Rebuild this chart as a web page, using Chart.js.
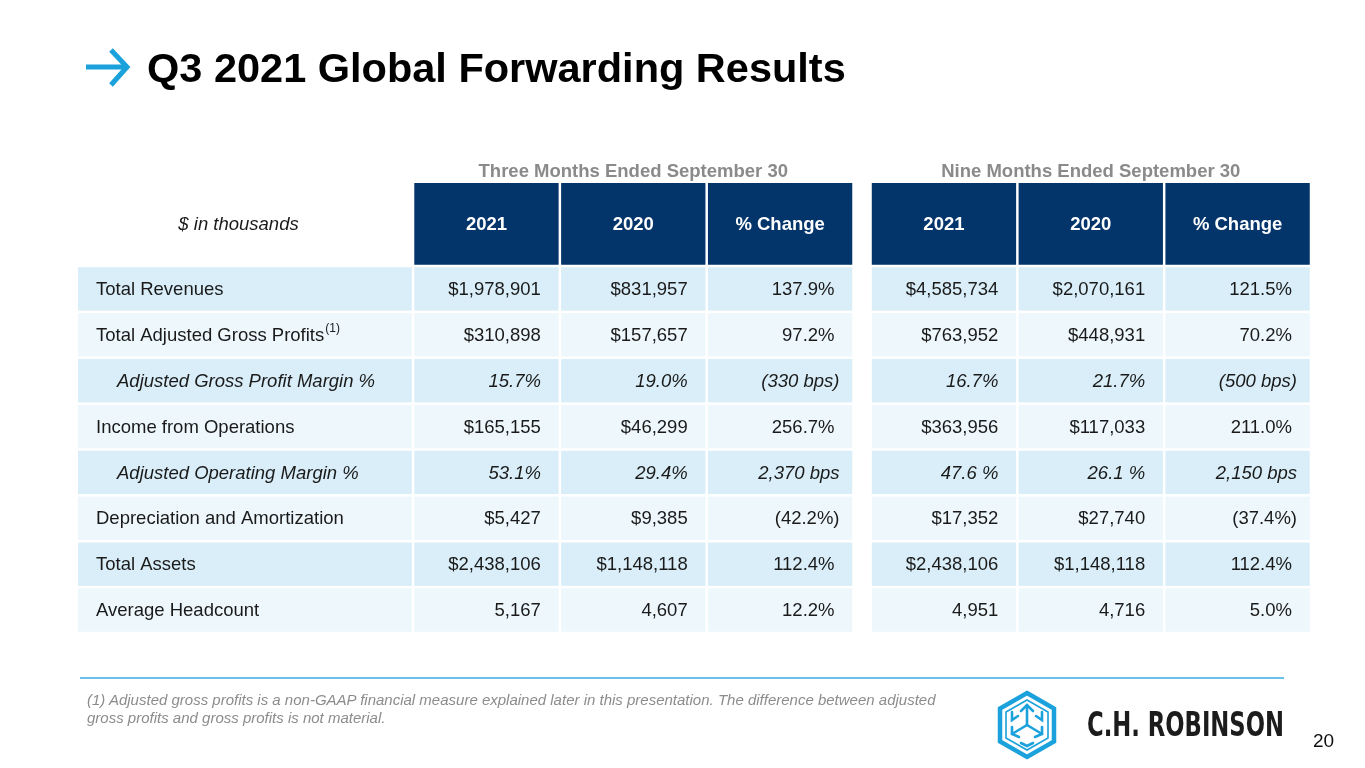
<!DOCTYPE html>
<html><head><meta charset="utf-8">
<script src="https://cdn.jsdelivr.net/npm/chart.js@4.4.1/dist/chart.umd.min.js"></script>
<style>
html,body{margin:0;padding:0;background:#fff;}
body{width:1365px;height:768px;position:relative;overflow:hidden;font-family:'Liberation Sans',Arial,sans-serif;}
#c{position:absolute;left:0;top:0;}
.title{position:absolute;left:147px;top:47px;font-size:41.5px;font-weight:bold;line-height:42px;color:#000;white-space:nowrap;}
.arrow{position:absolute;left:80px;top:44px;}
.rule{position:absolute;left:80px;top:677px;width:1204px;height:2px;background:#6cc1ea;}
.note{position:absolute;left:87px;top:691px;font-size:15px;line-height:18px;font-style:italic;color:#8c8c8c;white-space:nowrap;}
.page{position:absolute;left:1313px;top:731px;font-size:19px;line-height:19px;color:#111;}
.logo{position:absolute;left:996px;top:690px;}
.brand{position:absolute;left:1086px;top:700px;}
</style>
</head>
<body>
<canvas id="c" width="1365" height="768" style="width:1365px;height:768px"></canvas>
<svg class="arrow" width="52" height="48" viewBox="0 0 52 48">
  <line x1="6" y1="23" x2="45" y2="23" stroke="#1ba1db" stroke-width="5"/>
  <polyline points="31,6 47,23 31,41" fill="none" stroke="#1ba1db" stroke-width="5"/>
</svg>
<div class="title">Q3 2021 Global Forwarding Results</div>
<div class="rule"></div>
<div class="note">(1) Adjusted gross profits is a non-GAAP financial measure explained later in this presentation. The difference between adjusted<br>gross profits and gross profits is not material.</div>
<svg class="logo" width="62" height="70" viewBox="0 0 62 70">
  <polygon points="31,3 58,18.5 58,51.5 31,67 4,51.5 4,18.5" fill="none" stroke="#1ba1db" stroke-width="4.5"/>
  <polygon points="31,10 52,22 52,48 31,60 10,48 10,22" fill="none" stroke="#1ba1db" stroke-width="1.6"/>
  <g stroke="#1ba1db" stroke-width="2.6" fill="none" stroke-linecap="round">
    <line x1="31" y1="35" x2="31" y2="15"/>
    <polyline points="25,21 31,15 37,21"/>
    <line x1="31" y1="35" x2="16" y2="44"/>
    <polyline points="16,37 16,44 23,47"/>
    <line x1="31" y1="35" x2="46" y2="44"/>
    <polyline points="46,37 46,44 39,47"/>
    <polyline points="16,22 16,30 22,26"/>
    <polyline points="46,22 46,30 40,26"/>
    <polyline points="25,53 31,56 37,53"/>
  </g>
</svg>
<svg class="brand" width="205" height="45" viewBox="0 0 205 45">
  <text x="1" y="36" font-family="'DejaVu Sans Condensed','DejaVu Sans',sans-serif" font-weight="bold" font-size="33" fill="#1c1c1c" textLength="197" lengthAdjust="spacingAndGlyphs">C.H. ROBINSON</text>
</svg>
<div class="page">20</div>
<script>
const rowLabels = ['Total Revenues', 'Total Adjusted Gross Profits', 'Adjusted Gross Profit Margin %', 'Income from Operations', 'Adjusted Operating Margin %', 'Depreciation and Amortization', 'Total Assets', 'Average Headcount'];
const rowNotes = ['', '(1)', '', '', '', '', '', ''];
const columnLabels = ['2021', '2020', '% Change'];
const groupLabels = ['Three Months Ended September 30', 'Nine Months Ended September 30'];
const unitLabel = '$ in thousands';
const threeMonths2021 = ['$1,978,901', '$310,898', '15.7%', '$165,155', '53.1%', '$5,427', '$2,438,106', '5,167'];
const threeMonths2020 = ['$831,957', '$157,657', '19.0%', '$46,299', '29.4%', '$9,385', '$1,148,118', '4,607'];
const threeMonthsChange = ['137.9%', '97.2%', '(330 bps)', '256.7%', '2,370 bps', '(42.2%)', '112.4%', '12.2%'];
const nineMonths2021 = ['$4,585,734', '$763,952', '16.7%', '$363,956', '47.6 %', '$17,352', '$2,438,106', '4,951'];
const nineMonths2020 = ['$2,070,161', '$448,931', '21.7%', '$117,033', '26.1 %', '$27,740', '$1,148,118', '4,716'];
const nineMonthsChange = ['121.5%', '70.2%', '(500 bps)', '211.0%', '2,150 bps', '(37.4%)', '112.4%', '5.0%'];
const italicRows = [2, 4];

const FONT = "'Liberation Sans', Arial, sans-serif";
const groups = [
  [threeMonths2021, threeMonths2020, threeMonthsChange],
  [nineMonths2021, nineMonths2020, nineMonthsChange]
];

const tablePlugin = {
  id: 'tablePlugin',
  afterDraw(chart, args, o) {
    const { ctx, chartArea: a, scales: { x, y } } = chart;
    const band = Math.abs(y.getPixelForValue(1) - y.getPixelForValue(0));
    const gh = o.cellGap / 2;
    const colStart = (g, c) => g * (columnLabels.length + o.groupGapUnits) + c;
    const hTop = a.top - o.headerHeight;
    ctx.save();
    // label column
    const ll = x.getPixelForValue(x.min), lr = x.getPixelForValue(0);
    ctx.textBaseline = 'middle';
    ctx.fillStyle = o.textColor;
    ctx.font = 'italic ' + o.fontSize + 'px ' + FONT;
    ctx.textAlign = 'center';
    ctx.fillText(unitLabel, (ll + lr) / 2 - 7, hTop + o.headerHeight / 2);
    rowLabels.forEach((lab, i) => {
      const yc = y.getPixelForValue(i);
      ctx.fillStyle = o.rowFills[i % 2];
      ctx.fillRect(ll, yc - band / 2 + gh, lr - ll - gh, band - 2 * gh);
      const it = italicRows.includes(i);
      ctx.fillStyle = o.textColor;
      ctx.font = (it ? 'italic ' : '') + o.fontSize + 'px ' + FONT;
      ctx.textAlign = 'left';
      const tx = ll + o.labelPad + (it ? o.indent : 0);
      ctx.fillText(lab, tx, yc + 1);
      if (rowNotes[i]) {
        const w = ctx.measureText(lab).width;
        ctx.font = o.noteSize + 'px ' + FONT;
        ctx.fillText(rowNotes[i], tx + w + 1, yc - 6);
      }
    });
    groups.forEach((cols, g) => {
      cols.forEach((vals, c) => {
        const l = x.getPixelForValue(colStart(g, c)), r = x.getPixelForValue(colStart(g, c) + 1);
        ctx.fillStyle = o.headerFill;
        ctx.fillRect(l + gh, hTop, r - l - 2 * gh, o.headerHeight - gh);
        ctx.fillStyle = '#ffffff';
        ctx.font = 'bold ' + o.fontSize + 'px ' + FONT;
        ctx.textAlign = 'center';
        ctx.textBaseline = 'middle';
        ctx.fillText(columnLabels[c], (l + r) / 2, hTop + o.headerHeight / 2);
        vals.forEach((v, i) => {
          const yc = y.getPixelForValue(i);
          ctx.fillStyle = o.rowFills[i % 2];
          ctx.fillRect(l + gh, yc - band / 2 + gh, r - l - 2 * gh, band - 2 * gh);
          ctx.fillStyle = o.textColor;
          ctx.font = (italicRows.includes(i) ? 'italic ' : '') + o.fontSize + 'px ' + FONT;
          ctx.textAlign = 'right';
          const hang = /\)$|bps$/.test(v) ? o.hang : 0;
          ctx.fillText(v, r - o.valuePad + hang, yc + 1);
        });
      });
      const gl = x.getPixelForValue(colStart(g, 0)), gr = x.getPixelForValue(colStart(g, columnLabels.length));
      ctx.fillStyle = o.groupColor;
      ctx.font = 'bold ' + o.fontSize + 'px ' + FONT;
      ctx.textAlign = 'center';
      ctx.textBaseline = 'alphabetic';
      ctx.fillText(groupLabels[g], (gl + gr) / 2, hTop - 6);
    });
    ctx.restore();
  }
};

new Chart(document.getElementById('c'), {
  type: 'bar',
  data: { labels: rowLabels, datasets: [{ data: rowLabels.map(() => null) }] },
  options: {
    indexAxis: 'y',
    responsive: false,
    animation: false,
    events: [],
    layout: { padding: { left: 78, right: 54, top: 266, bottom: 135 } },
    plugins: {
      legend: { display: false },
      tooltip: { enabled: false },
      title: { display: false },
      tablePlugin: {
        headerHeight: 83,
        cellGap: 2.5,
        groupGapUnits: 0.116,
        headerFill: '#03346a',
        rowFills: ['#d9eef8', '#eef8fc'],
        textColor: '#1a1a1a',
        groupColor: '#8a8a8a',
        fontSize: 18.5,
        noteSize: 12,
        labelPad: 18,
        indent: 21,
        valuePad: 19,
        hang: 5
      }
    },
    scales: {
      x: { type: 'linear', display: false, min: -2.282, max: 6.116 },
      y: { type: 'category', display: false, offset: true }
    }
  },
  plugins: [tablePlugin]
});
</script>
</body></html>
